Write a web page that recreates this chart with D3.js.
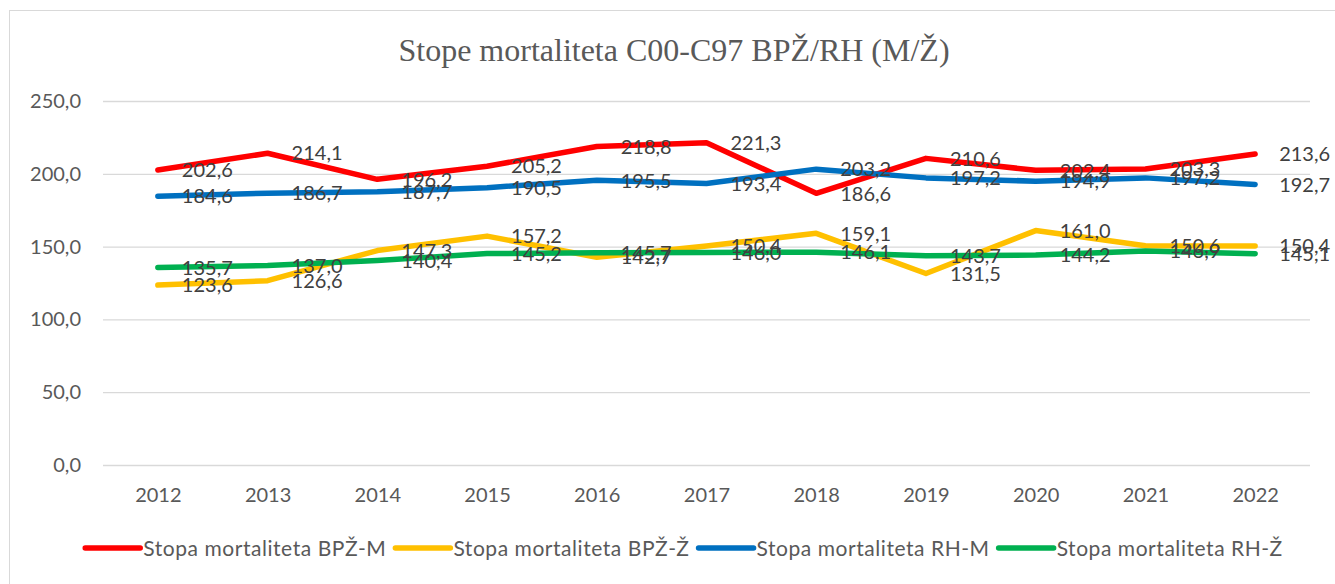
<!DOCTYPE html>
<html>
<head>
<meta charset="utf-8">
<script src="https://cdn.jsdelivr.net/npm/d3@7"></script>
<style>
  body { margin: 0; background: #fff; }
  svg { display: block; }
  .tick text { font-family: Lato, sans-serif; font-size: 20px; fill: #595959; }
</style>
</head>
<body>
<svg id="chart" width="1335" height="584"></svg>
<script>
var years = [2012, 2013, 2014, 2015, 2016, 2017, 2018, 2019, 2020, 2021, 2022];
var bpzM = [202.6, 214.1, 196.2, 205.2, 218.8, 221.3, 186.6, 210.6, 202.4, 203.3, 213.6];
var bpzZ = [123.6, 126.6, 147.3, 157.2, 142.7, 150.4, 159.1, 131.5, 161.0, 150.6, 150.4];
var rhM = [184.6, 186.7, 187.7, 190.5, 195.5, 193.4, 203.2, 197.2, 194.9, 197.2, 192.7];
var rhZ = [135.7, 137.0, 140.4, 145.2, 145.7, 146.0, 146.1, 143.7, 144.2, 146.9, 145.1];
var seriesNames = ["Stopa mortaliteta BPŽ-M", "Stopa mortaliteta BPŽ-Ž", "Stopa mortaliteta RH-M", "Stopa mortaliteta RH-Ž"];
var seriesColors = ["#ff0000", "#ffc000", "#0070c0", "#00b050"];
var yTicks = [0, 50, 100, 150, 200, 250];

var series = [bpzM, bpzZ, rhM, rhZ].map(function(vals, i) {
    return { name: seriesNames[i], color: seriesColors[i], values: vals };
});

var svg = d3.select("#chart"),
    plotLeft = 103, plotRight = 1310, plotTop = 101, plotBottom = 465;

var hr = d3.formatLocale({ decimal: ",", thousands: ".", grouping: [3], currency: ["", " €"] }),
    fmt = hr.format(".1f");

// chart frame
svg.append("rect")
    .attr("x", 9.5).attr("y", 10.5)
    .attr("width", 1400).attr("height", 700)
    .attr("fill", "none")
    .attr("stroke", "#d9d9d9");

svg.append("text")
    .attr("x", 674).attr("y", 61)
    .attr("text-anchor", "middle")
    .style("font-family", "'Liberation Serif', 'Times New Roman', serif")
    .style("font-size", "32px")
    .style("fill", "#595959")
    .text("Stope mortaliteta C00-C97 BPŽ/RH (M/Ž)");

var x = d3.scalePoint().domain(years).range([plotLeft, plotRight]).padding(0.5),
    y = d3.scaleLinear().domain([0, 250]).range([plotBottom, plotTop]);

var yAxis = d3.axisLeft(y)
    .tickValues(yTicks)
    .tickFormat(fmt)
    .tickSizeInner(-(plotRight - plotLeft))
    .tickSizeOuter(0)
    .tickPadding(22);

svg.append("g")
    .attr("transform", "translate(" + plotLeft + ",0)")
    .call(yAxis)
    .call(function(g) {
        g.select(".domain").remove();
        g.selectAll(".tick line").attr("stroke", "#d9d9d9").attr("stroke-width", 1.3);
    });

var xAxis = d3.axisBottom(x).tickSize(0).tickPadding(23);

svg.append("g")
    .attr("transform", "translate(0," + plotBottom + ")")
    .call(xAxis)
    .call(function(g) { g.select(".domain").remove(); });

var line = d3.line()
    .x(function(d, i) { return x(years[i]); })
    .y(function(d) { return y(d); });

svg.selectAll("path.series")
    .data(series)
    .enter()
    .append("path")
    .attr("class", "series")
    .attr("d", function(s) { return line(s.values); })
    .attr("fill", "none")
    .attr("stroke", function(s) { return s.color; })
    .attr("stroke-width", 5.5)
    .attr("stroke-linecap", "round")
    .attr("stroke-linejoin", "round");

// data labels, right of each point
series.forEach(function(s) {
    svg.append("g")
        .selectAll("text")
        .data(s.values)
        .enter()
        .append("text")
        .attr("x", function(d, i) { return x(years[i]) + 24; })
        .attr("y", function(d) { return y(d); })
        .attr("dy", ".36em")
        .style("font-family", "Lato, sans-serif")
        .style("font-size", "20px")
        .style("fill", "#404040")
        .text(function(d) { return fmt(d); });
});

// legend
var legend = svg.append("g"),
    symW = 55, gapText = 3, gapItem = 9, cx = 684, legY = 548,
    pos = 0, items = [];

series.forEach(function(s) {
    var g = legend.append("g");
    g.append("line")
        .attr("x1", 0).attr("x2", symW)
        .attr("y1", 0).attr("y2", 0)
        .attr("stroke", s.color)
        .attr("stroke-width", 5.5)
        .attr("stroke-linecap", "round");
    var t = g.append("text")
        .attr("x", symW + gapText)
        .attr("dy", ".36em")
        .style("font-family", "Lato, sans-serif")
        .style("font-size", "21px")
        .style("letter-spacing", "0.55px")
        .style("fill", "#595959")
        .text(s.name);
    var w = symW + gapText + t.node().getComputedTextLength();
    items.push({ g: g, x: pos });
    pos += w + gapItem;
});

var total = pos - gapItem,
    start = cx - total / 2;
items.forEach(function(it) {
    it.g.attr("transform", "translate(" + (start + it.x) + "," + legY + ")");
});
</script>
</body>
</html>
